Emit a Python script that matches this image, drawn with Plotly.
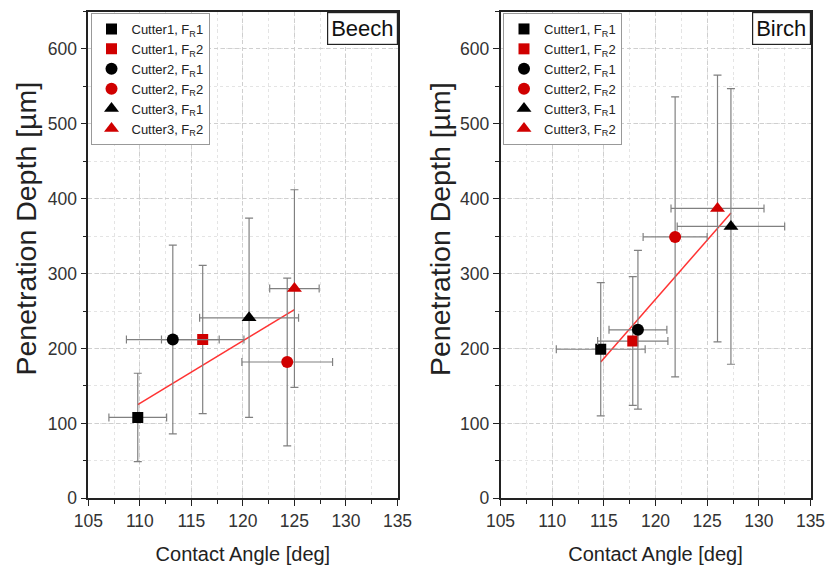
import plotly.graph_objects as go

# ---- data ----
series_names = ["Cutter1, F<sub>R</sub>1", "Cutter1, F<sub>R</sub>2",
                "Cutter2, F<sub>R</sub>1", "Cutter2, F<sub>R</sub>2",
                "Cutter3, F<sub>R</sub>1", "Cutter3, F<sub>R</sub>2"]
series_symbols = ["square", "square", "circle", "circle", "triangle-up", "triangle-up"]
series_colors = ["#000000", "#d00000", "#000000", "#d00000", "#000000", "#d00000"]

beech_angle = [109.8, 116.1, 113.2, 124.3, 120.6, 125.0]
beech_angle_err = [2.8, 4.0, 4.5, 4.4, 4.8, 2.4]
beech_depth = [108, 212, 212, 182, 241, 280]
beech_depth_err = [59, 99, 126, 112, 133, 132]
beech_fit_x = [109.8, 125.0]
beech_fit_y = [125, 252]

birch_angle = [114.7, 117.8, 118.3, 121.9, 127.3, 126.0]
birch_angle_err = [4.3, 3.4, 2.8, 3.1, 5.2, 4.5]
birch_depth = [199, 210, 225, 349, 363, 387]
birch_depth_err = [89, 86, 106, 187, 184, 178]
birch_fit_x = [114.7, 127.3]
birch_fit_y = [182, 381]

x_ticks = [105, 110, 115, 120, 125, 130, 135]
y_ticks = [0, 100, 200, 300, 400, 500, 600]
panel_labels = ["Beech", "Birch"]
x_title = "Contact Angle [deg]"
y_title = "Penetration Depth [µm]"

FONT = "Arial, Liberation Sans, sans-serif"
ERR_COLOR = "#808080"
FIT_COLOR = "#ff3333"
marker_sizes = {"square": 11, "circle": 12, "triangle-up": 13}

fig = go.Figure()

panels = [
    (beech_angle, beech_angle_err, beech_depth, beech_depth_err, beech_fit_x, beech_fit_y, "x", "y", "legend"),
    (birch_angle, birch_angle_err, birch_depth, birch_depth_err, birch_fit_x, birch_fit_y, "x2", "y2", "legend2"),
]

for ang, angerr, dep, deperr, fx, fy, xa, ya, leg in panels:
    fig.add_trace(go.Scatter(
        x=fx, y=fy, mode="lines", line=dict(color=FIT_COLOR, width=1.5),
        xaxis=xa, yaxis=ya, showlegend=False, hoverinfo="skip"))
    for i in range(len(series_names)):
        fig.add_trace(go.Scatter(
            x=[ang[i]], y=[dep[i]], mode="markers", name=series_names[i],
            marker=dict(symbol=series_symbols[i], color=series_colors[i],
                        size=marker_sizes[series_symbols[i]], line=dict(width=0)),
            error_x=dict(type="data", array=[angerr[i]], color=ERR_COLOR, thickness=1.2, width=4),
            error_y=dict(type="data", array=[deperr[i]], color=ERR_COLOR, thickness=1.2, width=4),
            xaxis=xa, yaxis=ya, legend=leg))

W, H = 829, 572
xdom1 = [88.3 / W, 397.5 / W]
xdom2 = [500.5 / W, 810.5 / W]
ydom = [1 - 498.3 / H, 1 - 11.5 / H]

def xaxis_cfg(dom, anchor):
    return dict(domain=dom, anchor=anchor, range=[105, 135], tickvals=x_ticks,
                ticks="outside", ticklen=6, tickwidth=1.2, tickcolor="#222",
                showline=True, linecolor="#222", linewidth=1.5, mirror=True,
                showgrid=True, gridcolor="#cfcfcf", griddash="4px,3px", gridwidth=1,
                minor=dict(dtick=2.5, ticks="outside", ticklen=4, tickcolor="#222",
                           showgrid=True, gridcolor="#e4e4e4", griddash="3px,3px"),
                zeroline=False,
                tickfont=dict(family=FONT, size=17.5, color="#333"),
                title=dict(text=x_title, standoff=17,
                           font=dict(family=FONT, size=20, color="#222")),
                automargin=False)

def yaxis_cfg(anchor):
    return dict(domain=ydom, anchor=anchor, range=[0, 650], tickvals=y_ticks,
                ticks="outside", ticklen=6, tickwidth=1.2, tickcolor="#222",
                showline=True, linecolor="#222", linewidth=1.5, mirror=True,
                showgrid=True, gridcolor="#cfcfcf", griddash="4px,3px", gridwidth=1,
                minor=dict(dtick=50, ticks="outside", ticklen=4, tickcolor="#222",
                           showgrid=True, gridcolor="#e4e4e4", griddash="3px,3px"),
                zeroline=False,
                tickfont=dict(family=FONT, size=17.5, color="#333"),
                automargin=False)

legend_common = dict(xanchor="left", yanchor="top", bgcolor="white",
                     bordercolor="#999", borderwidth=1,
                     font=dict(family=FONT, size=13, color="#222"),
                     itemwidth=30, tracegroupgap=0)

fig.update_layout(
    width=W, height=H, margin=dict(l=0, r=0, t=0, b=0),
    paper_bgcolor="white", plot_bgcolor="white",
    font=dict(family=FONT),
    xaxis=xaxis_cfg(xdom1, "y"), yaxis=yaxis_cfg("x"),
    xaxis2=xaxis_cfg(xdom2, "y2"), yaxis2=yaxis_cfg("x2"),
    legend=dict(x=90.5 / W, y=1 - 13 / H, **legend_common),
    legend2=dict(x=503 / W, y=1 - 13 / H, **legend_common),
)

for j, lab in enumerate(panel_labels):
    suffix = "" if j == 0 else "2"
    fig.add_annotation(text=lab, xref=f"x{suffix} domain", yref=f"y{suffix} domain",
                       x=1, y=1, xanchor="right", yanchor="top", showarrow=False,
                       font=dict(family=FONT, size=22, color="#111"),
                       bordercolor="#222", borderwidth=1.2, borderpad=3, bgcolor="white")

# y-axis titles (placed slightly above the axis centre, as in the reference)
for xc in (25.5 / W, 440 / W):
    fig.add_annotation(text=y_title, xref="paper", yref="paper",
                       x=xc, y=1 - 229 / H, xanchor="center", yanchor="middle",
                       textangle=-90, showarrow=False,
                       font=dict(family=FONT, size=28.5, color="#222"))

fig.write_html("out.html")
